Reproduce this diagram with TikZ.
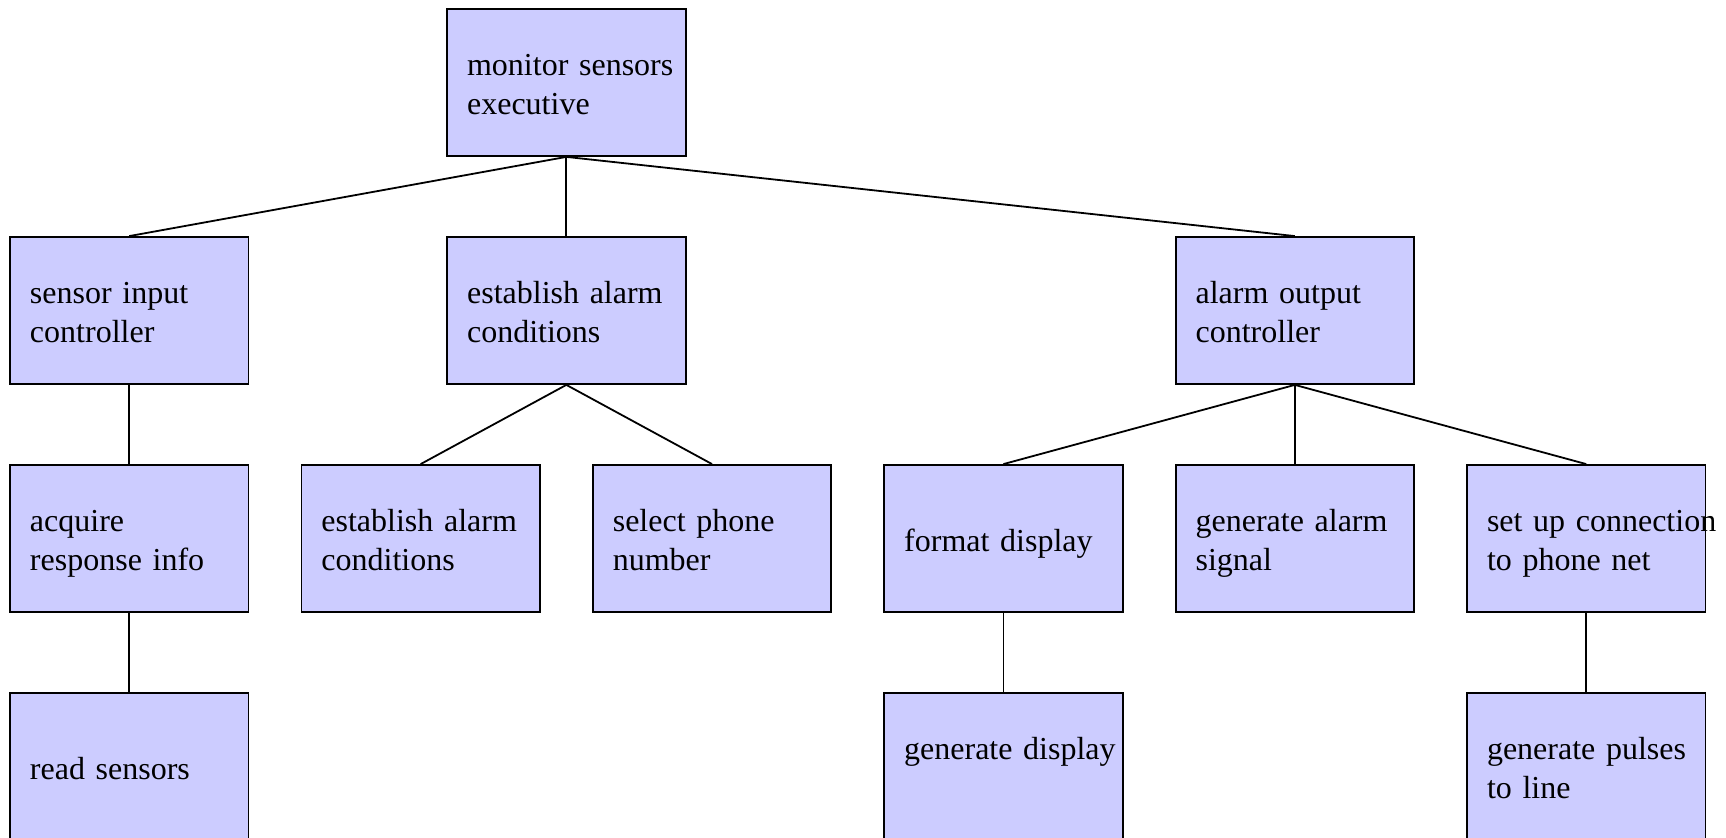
\documentclass[tikz,border=0pt]{standalone}
\usepackage{fontspec}
\setmainfont{Liberation Serif}
\definecolor{boxfill}{HTML}{CCCCFF}
\tikzset{
  module/.style={draw=black, line width=0.9pt, fill=boxfill, rectangle,
    minimum width=119.25pt, minimum height=73.5pt,
    text width=99.25pt, inner xsep=10pt, inner ysep=0pt, align=left,
    font=\fontsize{16}{19.5}\selectfont,
    execute at begin node=\rule{0pt}{18.65pt}, execute at end node=\strut},
  link/.style={draw=black, line width=0.9pt}
}
\begin{document}
\begin{tikzpicture}[x=0.5pt, y=-0.5pt]
  \useasboundingbox (0,0) rectangle (1726,838);
  % level 0
  \node[module] (exec) at (566.35,82.5) {\mbox{monitor sensors}\\\mbox{executive}};
  % level 1
  \node[module] (sic) at (129.25,310.5) {\mbox{sensor input}\\\mbox{controller}};
  \node[module] (eac) at (566.35,310.5) {\mbox{establish alarm}\\\mbox{conditions}};
  \node[module] (aoc) at (1294.85,310.5) {\mbox{alarm output}\\\mbox{controller}};
  % level 2
  \node[module] (ari) at (129.25,538.5) {\mbox{acquire}\\\mbox{response info}};
  \node[module] (eac2) at (420.65,538.5) {\mbox{establish alarm}\\\mbox{conditions}};
  \node[module] (spn) at (712.05,538.5) {\mbox{select phone}\\\mbox{number}};
  \node[module] (fd) at (1003.45,538.5) {\mbox{format display}};
  \node[module] (gas) at (1294.85,538.5) {\mbox{generate alarm}\\\mbox{signal}};
  \node[module] (suc) at (1586.25,538.5) {\mbox{set up connection}\\\mbox{to phone net}};
  % level 3
  \node[module] (rs) at (129.25,766.5) {\mbox{read sensors}};
  \node[module] (gd) at (1003.45,766.5) {\mbox{generate display}\\};
  \node[module] (gp) at (1586.25,766.5) {\mbox{generate pulses}\\\mbox{to line}};
  % connectors
  \draw[link] (exec.south) -- (sic.north);
  \draw[link] (exec.south) -- (eac.north);
  \draw[link] (exec.south) -- (aoc.north);
  \draw[link] (sic.south) -- (ari.north);
  \draw[link] (ari.south) -- (rs.north);
  \draw[link] (eac.south) -- (eac2.north);
  \draw[link] (eac.south) -- (spn.north);
  \draw[link] (aoc.south) -- (fd.north);
  \draw[link] (aoc.south) -- (gas.north);
  \draw[link] (aoc.south) -- (suc.north);
  \draw[link] (fd.south) -- (gd.north);
  \draw[link] (suc.south) -- (gp.north);
\end{tikzpicture}
\end{document}
